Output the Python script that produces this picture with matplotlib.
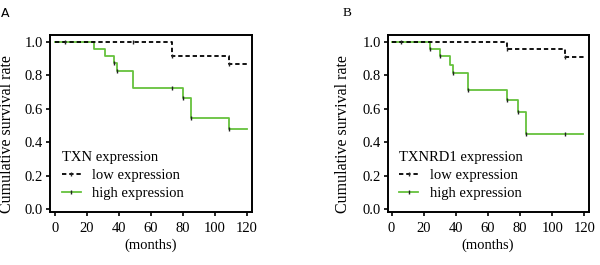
import matplotlib as mpl
mpl.use('Agg')

import matplotlib.pyplot as plt
from matplotlib.lines import Line2D

plt.rcParams['font.family'] = ['Liberation Serif', 'DejaVu Serif']

# step curves: times where survival changes, and survival after each change
a_low_t = [0, 73, 109, 120]
a_low_s = [1.0, 0.916, 0.868, 0.868]
a_low_cens_t = [6, 49, 73, 109]
a_high_t = [0, 24.5, 31, 37, 38.6, 49, 80, 85, 109, 120]
a_high_s = [1.0, 0.96, 0.918, 0.872, 0.825, 0.727, 0.667, 0.547, 0.479, 0.479]
a_high_cens_t = [37, 38.6, 73, 80, 85, 109]

b_low_t = [0, 72, 108, 120]
b_low_s = [1.0, 0.958, 0.91, 0.91]
b_low_cens_t = [5.6, 72, 108]
b_high_t = [0, 24, 30, 36.3, 38.4, 47.7, 72, 79, 84, 119]
b_high_s = [1.0, 0.958, 0.914, 0.864, 0.812, 0.71, 0.65, 0.58, 0.448, 0.448]
b_high_cens_t = [24, 30, 38.4, 47.7, 72, 79, 84, 108]

xticks = [0, 20, 40, 60, 80, 100, 120]
yticks = [0.0, 0.2, 0.4, 0.6, 0.8, 1.0]

green = '#66c23d'
dash = (0, (2.4, 1.6))
fs = 10.5


def surv_at(times, surv, t):
    val = surv[0]
    for ti, si in zip(times, surv):
        if ti <= t:
            val = si
    return val


def panel(ax, low_t, low_s, low_c, high_t, high_s, high_c, title, xl, ylab_x):
    ax.step(high_t, high_s, where='post', color=green, lw=1.3, zorder=2)
    ax.step(low_t, low_s, where='post', color='k', lw=1.3, ls=dash, zorder=3)
    for ts, tt, ss in [(low_c, low_t, low_s), (high_c, high_t, high_s)]:
        ax.plot(ts, [surv_at(tt, ss, t) for t in ts], ls='none', marker='|',
                color='#222222', ms=3.5, mew=1.0, zorder=4)
    ax.set_xlim(*xl)
    ax.set_ylim(-0.018, 1.042)
    ax.set_xticks(xticks)
    ax.set_yticks(yticks)
    ax.set_yticklabels(['%.1f' % v for v in yticks])
    ax.tick_params(direction='out', length=3, width=1.2, labelsize=fs)
    ax.tick_params(axis='x', pad=4)
    ax.tick_params(axis='y', pad=2)
    for sp in ax.spines.values():
        sp.set_linewidth(1.4)
    ax.set_xlabel('(months)', fontsize=fs, labelpad=3)
    ax.set_ylabel('Cumulative survival rate', fontsize=11.5)
    ax.yaxis.set_label_coords(ylab_x, 0.44)
    handles = [
        Line2D([], [], color='k', ls=dash, lw=1.3, marker='|', ms=3.5, mec='#222222'),
        Line2D([], [], color=green, lw=1.3, marker='|', ms=3.5, mec='#222222'),
    ]
    leg = ax.legend(handles, ['low expression', 'high expression'], title=title,
                    loc='lower left', bbox_to_anchor=(0.0, 0.0), frameon=False,
                    fontsize=fs, title_fontsize=fs, handlelength=1.3,
                    handletextpad=0.8, labelspacing=0.34, borderaxespad=0.5,
                    borderpad=0.3)
    leg._legend_box.align = 'left'


fig = plt.figure(figsize=(6, 2.65), dpi=100)
ax1 = fig.add_axes([0.0833, 0.2, 0.3367, 0.668])
ax2 = fig.add_axes([0.646, 0.2, 0.335, 0.668])

panel(ax1, a_low_t, a_low_s, a_low_cens_t, a_high_t, a_high_s, a_high_cens_t,
      'TXN expression', (-3.1, 123.1), -0.172)
panel(ax2, b_low_t, b_low_s, b_low_cens_t, b_high_t, b_high_s, b_high_cens_t,
      'TXNRD1 expression', (-2.5, 122.7), -0.18)

fig.text(0.002, 0.975, 'A', fontsize=9, va='top', family='DejaVu Sans')
fig.text(0.571, 0.975, 'B', fontsize=9.5, va='top')

fig.savefig('out.png', dpi=100)
